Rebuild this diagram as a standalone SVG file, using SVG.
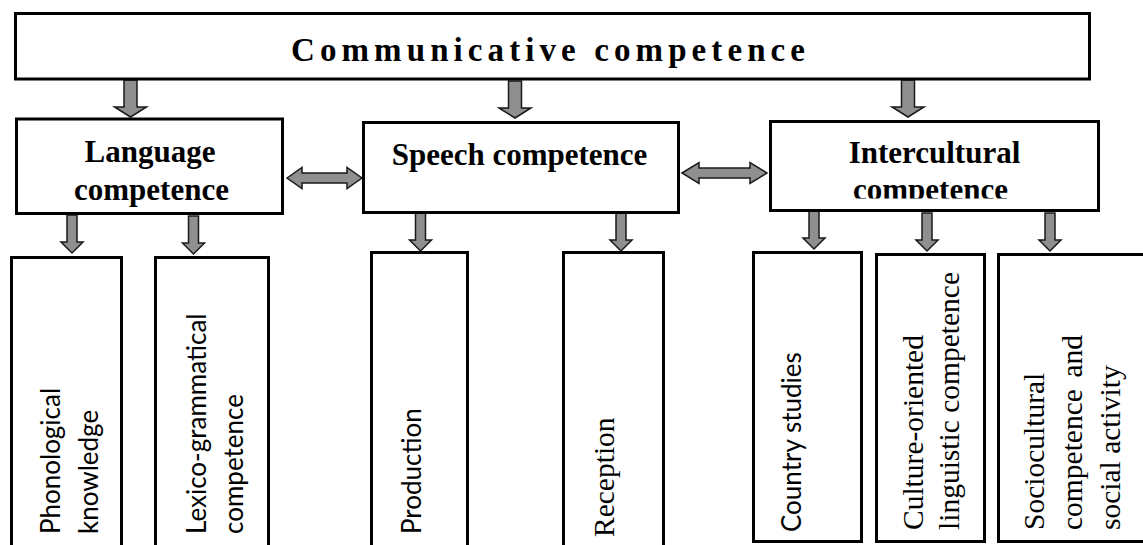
<svg xmlns="http://www.w3.org/2000/svg" xmlns:xlink="http://www.w3.org/1999/xlink" width="1143" height="545" viewBox="0 0 1143 545">
<style>
.box{fill:#fff;stroke:#000;stroke-width:3}
.arr{fill:#8f8f8f;stroke:#1a1a1a;stroke-width:1.5;stroke-linejoin:miter}
.ttl{font-family:"Liberation Serif","Times New Roman",serif;font-weight:bold;fill:#000}
.sans{font-family:Lato,"Liberation Sans",sans-serif;font-size:26px;fill:#000}
.serif{font-family:"Liberation Serif","Times New Roman",serif;font-size:29.5px;fill:#000}
</style>
<defs>
<path id="bigdown" d="M-6.5,0 H6.5 V27 H16 L0,37 L-16,27 H-6.5 Z"/>
<path id="smalldown" d="M-5,0 H5 V27 H11 L0,38 L-11,27 H-5 Z"/>
<clipPath id="clipInter"><rect x="770" y="120" width="330" height="78.5"/></clipPath>
</defs>
<g id="connectors">
<use href="#bigdown" class="arr" transform="translate(130.5,80)"/>
<use href="#bigdown" class="arr" transform="translate(515,81)"/>
<use href="#bigdown" class="arr" transform="translate(908,80)"/>
<use href="#smalldown" class="arr" transform="translate(72,215)"/>
<use href="#smalldown" class="arr" transform="translate(193.5,216)"/>
<use href="#smalldown" class="arr" transform="translate(420.5,213)"/>
<use href="#smalldown" class="arr" transform="translate(621,213)"/>
<use href="#smalldown" class="arr" transform="translate(814,211)"/>
<use href="#smalldown" class="arr" transform="translate(927,213)"/>
<use href="#smalldown" class="arr" transform="translate(1050,213)"/>
<path class="arr" d="M287,178 L302,167.5 V173 H347 V167.5 L362,178 L347,188.5 V183 H302 V188.5 Z"/>
<path class="arr" d="M682,173 L699,162.5 V168 H750 V162.5 L767,173 L750,183.5 V178 H699 V183.5 Z"/>
</g>
<g id="communicative">
<rect class="box" x="15.5" y="13.5" width="1074" height="65.5"/>
<text class="ttl" x="291" y="61" font-size="33" textLength="514" lengthAdjust="spacing">Communicative competence</text>
</g>
<g id="language">
<rect class="box" x="16.5" y="119" width="266" height="94.5"/>
<text class="ttl" x="150" y="162" font-size="31" text-anchor="middle">Language</text>
<text class="ttl" x="151.5" y="200" font-size="31" text-anchor="middle">competence</text>
</g>
<g id="speech">
<rect class="box" x="363.5" y="122.5" width="315" height="90"/>
<text class="ttl" x="519.5" y="165" font-size="31" text-anchor="middle">Speech competence</text>
</g>
<g id="intercultural">
<rect class="box" x="770.5" y="121.5" width="328" height="89"/>
<text class="ttl" x="934.5" y="163" font-size="31" text-anchor="middle">Intercultural</text>
<text class="ttl" x="930.5" y="200" font-size="31" text-anchor="middle" clip-path="url(#clipInter)">competence</text>
</g>
<g id="phonological">
<rect class="box" x="11.5" y="257.5" width="110" height="300"/>
<text class="sans" transform="translate(60,534) rotate(-90)"><tspan x="0" y="0">Phonological</tspan><tspan x="0" y="38">knowledge</tspan></text>
</g>
<g id="lexico">
<rect class="box" x="155.5" y="257.5" width="113" height="300"/>
<text class="sans" transform="translate(206,534) rotate(-90)"><tspan x="0" y="0">Lexico-grammatical</tspan><tspan x="0" y="37">competence</tspan></text>
</g>
<g id="production">
<rect class="box" x="371.5" y="252.5" width="96" height="300"/>
<text class="sans" transform="translate(421,534) rotate(-90)">Production</text>
</g>
<g id="reception">
<rect class="box" x="563.5" y="252.5" width="100" height="300"/>
<text class="serif" font-size="30.5" transform="translate(614,537) rotate(-90)">Reception</text>
</g>
<g id="country">
<rect class="box" x="753.5" y="252.5" width="108" height="289"/>
<text class="sans" font-size="26.5" transform="translate(801,532) rotate(-90)">Country studies</text>
</g>
<g id="culture">
<rect class="box" x="876.5" y="254.5" width="108" height="287"/>
<text class="serif" transform="translate(923,530) rotate(-90)"><tspan x="0" y="0">Culture-oriented</tspan><tspan x="0" y="36">linguistic competence</tspan></text>
</g>
<g id="sociocultural">
<rect class="box" x="998.5" y="254.5" width="160" height="287"/>
<text class="serif" transform="translate(1044,530) rotate(-90)"><tspan x="0" y="0">Sociocultural</tspan><tspan x="0" y="38">competence</tspan><tspan x="0" y="76">social activity</tspan></text>
<text class="serif" text-anchor="end" transform="translate(1082,530) rotate(-90)" x="195" y="0">and</text>
</g>
</svg>
